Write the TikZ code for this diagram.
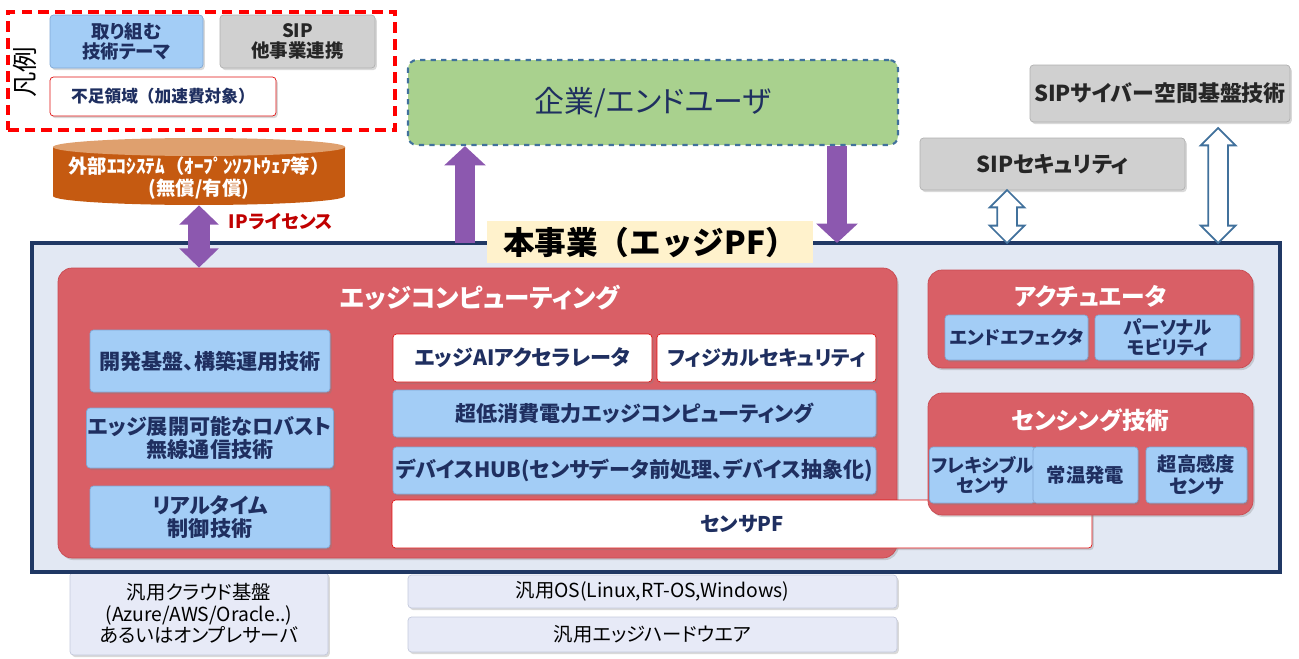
\documentclass[tikz,border=0pt]{standalone}
\usepackage{fontspec}
\setmainfont{Noto Sans CJK JP}[RawFeature=+palt]
\newfontfamily\fullwidth{Noto Sans CJK JP}
\usetikzlibrary{arrows.meta,shapes.arrows,shadows}

\definecolor{navytext}{HTML}{1F2F60}
\definecolor{framenavy}{HTML}{203864}
\definecolor{framefill}{HTML}{E2E8F3}
\definecolor{techblue}{HTML}{A3CDF6}
\definecolor{techblueline}{HTML}{80A8D4}
\definecolor{sipgray}{HTML}{D0D0D0}
\definecolor{sipgrayline}{HTML}{B0B0B0}
\definecolor{edgered}{HTML}{D95F66}
\definecolor{edgeredline}{HTML}{C84B52}
\definecolor{lackred}{HTML}{E01010}
\definecolor{flowpurple}{HTML}{8C58AF}
\definecolor{userfill}{HTML}{A9D18E}
\definecolor{sipblue}{HTML}{41719C}
\definecolor{ecobody}{HTML}{C55A11}
\definecolor{ecotop}{HTML}{DFA06E}
\definecolor{titleyellow}{HTML}{FFF2CC}
\definecolor{basefill}{HTML}{E7EAF7}
\definecolor{baseline}{HTML}{C3C8DC}
\definecolor{licensered}{HTML}{C00000}

\newcommand{\pxu}{0.02cm}
\newcommand{\fsz}[1]{\fontsize{#1}{\fpeval{1.12*#1}}\selectfont}

\begin{document}
\begin{tikzpicture}[x=0.02cm, y=-0.02cm,
   myshadow/.style={drop shadow={opacity=0.3, shadow xshift=1pt, shadow yshift=-1.2pt}},
   techbox/.style={draw=techblueline, fill=techblue, rounded corners=2pt, myshadow,
     text=navytext, align=center, inner sep=1pt, font=\bfseries\fsz{#1}},
   techbox/.default=12,
   sipbox/.style={draw=sipgrayline, fill=sipgray, rounded corners=2pt, myshadow,
     text=black!85, align=center, inner sep=1pt, font=\bfseries\fsz{#1}},
   lackbox/.style={draw=lackred, fill=white, rounded corners=2pt, myshadow,
     text=navytext, align=center, inner sep=1pt, font=\bfseries\fsz{#1}},
   areabox/.style={draw=edgeredline, fill=edgered, rounded corners=8pt, myshadow},
   areatitle/.style={text=white, font=\bfseries\fsz{#1}},
   basebox/.style={draw=baseline, fill=basefill, rounded corners=2pt, myshadow,
     align=center, inner sep=1pt, font=\fsz{11}},
   legendframe/.style={draw=red, line width=1.8pt, dash pattern=on 6pt off 3.5pt},
   pfframe/.style={draw=framenavy, line width=2.8pt, fill=framefill, inner sep=0pt},
   fatarrow/.style={draw=flowpurple, line width=11.5pt, -{Triangle[length=11pt,width=23pt]}},
   fatboth/.style={draw=flowpurple, line width=12pt,
     {Triangle[length=11pt,width=22pt]}-{Triangle[length=11pt,width=22pt]}},
   sipflow/.style={double arrow, draw=sipblue, fill=white, line width=1pt, rotate=90,
     inner xsep=0pt, inner ysep=0.18cm, double arrow head extend=0.15cm}]
\useasboundingbox (0,0) rectangle (1299,659);

% legend
\path (201.5,71) node[legendframe, minimum width=387*\pxu, minimum height=118*\pxu] (legend) {};
\path (25,72) node[rotate=90, font=\fsz{14.5}] (legendtitle) {凡例};
\path (126.5,41.5) node[techbox=10.5, minimum width=153*\pxu, minimum height=53*\pxu] (themekey) {取り組む\\技術テーマ};
\path (297.5,41.5) node[sipbox=10.5, minimum width=155*\pxu, minimum height=53*\pxu] (sipkey) {SIP\\他事業連携};
\path (163,96.5) node[lackbox=9.5, minimum width=226*\pxu, minimum height=39*\pxu] (lackkey) {\fullwidth 不足領域（加速費対象）};

% external ecosystem (cylinder)
\fill[ecobody] (53,147) -- (53,196) arc[start angle=180, end angle=360, x radius=2.92cm, y radius=0.18cm] -- (345,147) -- cycle;
\fill[ecotop] (199,147) ellipse[x radius=2.92cm, y radius=0.18cm];
\path (199,178) node[text=white, align=center, font=\fullwidth\bfseries\fsz{11}, minimum width=292*\pxu, minimum height=54*\pxu, inner sep=0pt] (ecosys)
   {外部ｴｺｼｽﾃﾑ（ｵｰﾌﾟﾝｿﾌﾄｳｪｱ等）\\(無償/有償)};
\path (281,222) node[text=licensered, font=\bfseries\fsz{10.5}] (iplicense) {IPライセンス};

% users and SIP partners
\path (653,102.5) node[draw=sipblue, fill=userfill, line width=1.2pt, dashed, rounded corners=5pt,
   minimum width=490*\pxu, minimum height=85*\pxu, text=navytext, font=\fsz{17}] (enduser) {企業/エンドユーザ};
\path (1160,93.5) node[sipbox=12.5, minimum width=260*\pxu, minimum height=57*\pxu] (sipcyber) {SIPサイバー空間基盤技術};
\path (1052.5,164) node[sipbox=12.5, minimum width=265*\pxu, minimum height=52*\pxu] (sipsecu) {SIPセキュリティ};

% general-purpose base
\path (199,613.5) node[basebox, minimum width=258*\pxu, minimum height=83*\pxu] (cloud)
   {汎用クラウド基盤\\(Azure/AWS/Oracle..)\\あるいはオンプレサーバ};
\path (652.5,591.5) node[basebox, minimum width=489*\pxu, minimum height=33*\pxu] (genos) {汎用OS(Linux,RT-OS,Windows)};
\path (652.5,634.5) node[basebox, minimum width=489*\pxu, minimum height=35*\pxu] (genhw) {汎用エッジハードウエア};

% this project
\path (656,407.5) node[pfframe, minimum width=1248*\pxu, minimum height=329*\pxu] (frame) {};

\path (477.5,413) node[areabox, minimum width=839*\pxu, minimum height=290*\pxu] (edgecomp) {};
\path (480,298) node[areatitle=14.5] (edgetitle) {エッジコンピューティング};
\path (210,361) node[techbox, minimum width=240*\pxu, minimum height=62*\pxu] (devbase) {開発基盤、構築運用技術};
\path (210,438) node[techbox, minimum width=240*\pxu, minimum height=60*\pxu] (wireless) {エッジ展開可能なロバスト\\無線通信技術};
\path (210,517) node[techbox, minimum width=240*\pxu, minimum height=62*\pxu] (realtime) {リアルタイム\\制御技術};
\path (522.5,358) node[lackbox=12, minimum width=259*\pxu, minimum height=48*\pxu] (aiaccel) {エッジAIアクセラレータ};
\path (766.5,358) node[lackbox=11.5, minimum width=219*\pxu, minimum height=48*\pxu] (physsec) {フィジカルセキュリティ};
\path (634.5,413.5) node[techbox, minimum width=483*\pxu, minimum height=47*\pxu] (lowpower) {超低消費電力エッジコンピューティング};
\path (634.5,470.5) node[techbox, minimum width=483*\pxu, minimum height=47*\pxu] (devhub) {デバイスHUB(センサデータ前処理、デバイス抽象化)};
\path (742,524) node[lackbox=11.5, minimum width=700*\pxu, minimum height=48*\pxu] (sensorpf) {センサPF};

\path (1090.5,319) node[areabox, minimum width=325*\pxu, minimum height=98*\pxu] (actuator) {};
\path (1090.5,296) node[areatitle=13.5] (acttitle) {アクチュエータ};
\path (1016.5,337.5) node[techbox=10.5, minimum width=143*\pxu, minimum height=45*\pxu] (endeff) {エンドエフェクタ};
\path (1167.5,337.5) node[techbox=10.5, minimum width=145*\pxu, minimum height=45*\pxu] (mobility) {パーソナル\\モビリティ};

\path (1090.5,454) node[areabox, minimum width=325*\pxu, minimum height=122*\pxu] (sensing) {};
\path (1090.5,420) node[areatitle=13.5] (senstitle) {センシング技術};
\path (982.5,475) node[techbox=10.5, minimum width=95*\pxu, minimum height=56*\pxu] (flexsens) {フレキシブル\\センサ};
\path (1085.5,475) node[techbox=11, minimum width=105*\pxu, minimum height=56*\pxu] (thermo) {常温発電};
\path (1196.5,475) node[techbox=11, minimum width=101*\pxu, minimum height=56*\pxu] (hisens) {超高感度\\センサ};

\path (650,242) node[fill=titleyellow, minimum width=326*\pxu, minimum height=40*\pxu, font=\fullwidth\bfseries\fsz{18}] (title) {本事業（エッジPF）};

% flows
\coordinate (upfoot) at (465,243);
\coordinate (downfoot) at (837,243);
\draw[fatarrow] (upfoot) -- (upfoot |- enduser.south);
\draw[fatarrow] (downfoot |- enduser.south) -- (downfoot);
\draw[fatboth] (ecosys.south) -- (ecosys.south |- edgecomp.north);
\path (1007,216.5) node[sipflow, minimum height=53*\pxu] (secuflow) {};
\path (1218,185.5) node[sipflow, minimum height=115*\pxu] (cyberflow) {};
\end{tikzpicture}
\end{document}
